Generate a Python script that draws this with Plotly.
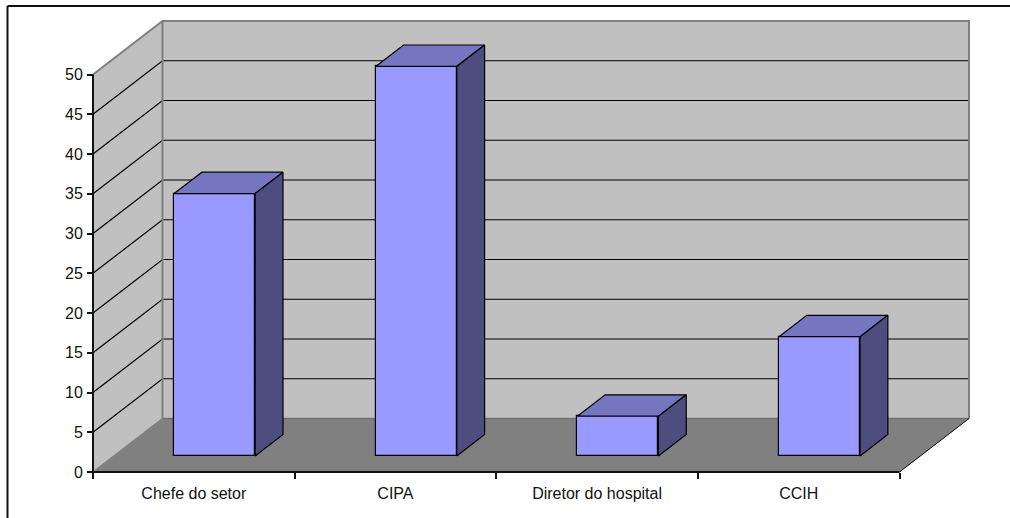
import plotly.graph_objects as go

# Chart data
categories = ["Chefe do setor", "CIPA", "Diretor do hospital", "CCIH"]
values = [33, 49, 5, 15]
y_ticks = [0, 5, 10, 15, 20, 25, 30, 35, 40, 45, 50]

# Oblique projection of the depth axis, expressed in axis units
DEPTH_X = 0.3447
DEPTH_Y = 6.73
BAR_WIDTH = 0.402
BAR_NEAR = 0.30   # fraction of the depth where a bar's front face sits
BAR_FAR = 0.70    # fraction of the depth where its back face sits

WALL = "#C0C0C0"
FLOOR = "#808080"
EDGE = "#808080"
FRONT = "#9999FF"
TOP = "#7676C0"
SIDE = "#4D4D80"
INK = "#000000"
AXIS = "#111111"

Y_MAX = 50
N = len(categories)
W, H = 1010, 518
L, R, T, B = 89, 37, 17, 42

# Small margin round the box so its outer lines are not clipped
plot_w = W - L - R
plot_h = H - T - B
PAD_PX = 4
PAD_X = PAD_PX * (N + DEPTH_X) / (plot_w - 2 * PAD_PX)
PAD_Y = PAD_PX * (Y_MAX + DEPTH_Y) / (plot_h - 2 * PAD_PX)


def path(points):
    return "M " + " L ".join(f"{x},{y}" for x, y in points) + " Z"


shapes = [
    # Back wall, side wall and floor
    dict(type="path", xref="x", yref="y", layer="below", line_width=0, fillcolor=WALL,
         path=path([(DEPTH_X, DEPTH_Y), (N + DEPTH_X, DEPTH_Y),
                    (N + DEPTH_X, Y_MAX + DEPTH_Y), (DEPTH_X, Y_MAX + DEPTH_Y)])),
    dict(type="path", xref="x", yref="y", layer="below", line_width=0, fillcolor=WALL,
         path=path([(0, 0), (DEPTH_X, DEPTH_Y), (DEPTH_X, Y_MAX + DEPTH_Y), (0, Y_MAX)])),
    dict(type="path", xref="x", yref="y", layer="below", line_width=0, fillcolor=FLOOR,
         path=path([(0, 0), (N, 0), (N + DEPTH_X, DEPTH_Y), (DEPTH_X, DEPTH_Y)])),
]

# Gridlines wrap from the side wall across the back wall
for v in y_ticks[1:-1]:
    shapes.append(dict(type="path", xref="x", yref="y", layer="below",
                       line=dict(color=INK, width=1.2),
                       path=f"M 0,{v} L {DEPTH_X},{v + DEPTH_Y} L {N + DEPTH_X},{v + DEPTH_Y}"))

# Corner between the two walls and the floor's edges
shapes.append(dict(type="line", xref="x", yref="y", layer="below",
                   line=dict(color=EDGE, width=2),
                   x0=DEPTH_X, x1=DEPTH_X, y0=DEPTH_Y, y1=Y_MAX + DEPTH_Y))
shapes.append(dict(type="line", xref="x", yref="y", layer="below",
                   line=dict(color="#707070", width=1.5),
                   x0=DEPTH_X, x1=N + DEPTH_X, y0=DEPTH_Y, y1=DEPTH_Y))
shapes.append(dict(type="line", xref="x", yref="y", layer="below",
                   line=dict(color=EDGE, width=1.5),
                   x0=0, x1=DEPTH_X, y0=0, y1=DEPTH_Y))
# Outer edges of the box
shapes.append(dict(type="path", xref="x", yref="y", layer="below",
                   line=dict(color=EDGE, width=2),
                   path=f"M 0,{Y_MAX} L {DEPTH_X},{Y_MAX + DEPTH_Y} "
                        f"L {N + DEPTH_X},{Y_MAX + DEPTH_Y} L {N + DEPTH_X},{DEPTH_Y}"))
shapes.append(dict(type="line", xref="x", yref="y", layer="below",
                   line=dict(color=INK, width=1),
                   x0=N, x1=N + DEPTH_X, y0=0, y1=DEPTH_Y))
# The two axis lines stop at the front of the box
shapes.append(dict(type="line", xref="x", yref="y", layer="below",
                   line=dict(color=AXIS, width=2), x0=0, x1=0, y0=0, y1=Y_MAX))
shapes.append(dict(type="line", xref="x", yref="y", layer="below",
                   line=dict(color=AXIS, width=2), x0=0, x1=N, y0=0, y1=0))

# Outer frame: top and left rules only
fx = lambda px: (px - L) / plot_w
fy = lambda py: (H - B - py) / plot_h
shapes.append(dict(type="line", xref="paper", yref="paper", line=dict(color="#111111", width=2),
                   x0=fx(7.5), x1=fx(1010), y0=fy(6), y1=fy(6)))
shapes.append(dict(type="line", xref="paper", yref="paper", line=dict(color="#111111", width=2),
                   x0=fx(7.5), x1=fx(7.5), y0=fy(6), y1=fy(518)))

fig = go.Figure()

near_x = DEPTH_X * BAR_NEAR
near_y = DEPTH_Y * BAR_NEAR
far_x = DEPTH_X * BAR_FAR
far_y = DEPTH_Y * BAR_FAR
step_x = far_x - near_x
step_y = far_y - near_y
centers = [i + 0.5 + near_x for i in range(N)]

# Front faces
fig.add_trace(go.Bar(
    x=centers, y=values, base=[near_y] * N, width=BAR_WIDTH,
    marker=dict(color=FRONT, line=dict(color=INK, width=1.2)),
    hoverinfo="skip", showlegend=False,
))

# Top and side faces of each bar
for c, v in zip(centers, values):
    left = c - BAR_WIDTH / 2
    right = c + BAR_WIDTH / 2
    low = near_y
    high = near_y + v
    fig.add_trace(go.Scatter(
        x=[left, right, right + step_x, left + step_x, left],
        y=[high, high, high + step_y, high + step_y, high],
        mode="lines", fill="toself", fillcolor=TOP, line=dict(color=INK, width=1.2),
        hoverinfo="skip", showlegend=False,
    ))
    fig.add_trace(go.Scatter(
        x=[right, right + step_x, right + step_x, right, right],
        y=[low, low + step_y, high + step_y, high, low],
        mode="lines", fill="toself", fillcolor=SIDE, line=dict(color=INK, width=1.2),
        hoverinfo="skip", showlegend=False,
    ))

font = dict(family="Liberation Sans, Arial, sans-serif", size=16, color="#111111")

fig.update_layout(
    width=W, height=H,
    margin=dict(l=L, r=R, t=T, b=B, pad=0),
    paper_bgcolor="white", plot_bgcolor="white",
    bargap=0, shapes=shapes, showlegend=False,
    font=font,
    xaxis=dict(
        range=[-PAD_X, N + DEPTH_X + PAD_X], showgrid=False, zeroline=False, showline=False,
        anchor="free", position=PAD_PX / plot_h,
        tickmode="array", tickvals=[i + 0.5 for i in range(N)], ticktext=categories,
        ticks="", tickfont=font, ticklabelstandoff=10,
        minor=dict(tickmode="array", tickvals=list(range(N + 1)), ticks="outside",
                   ticklen=6, tickwidth=1.5, tickcolor=AXIS, showgrid=False),
    ),
    yaxis=dict(
        range=[-PAD_Y, Y_MAX + DEPTH_Y + PAD_Y], showgrid=False, zeroline=False, showline=False,
        anchor="free", position=PAD_PX / plot_w,
        tickmode="array", tickvals=y_ticks, ticks="outside", ticklabelstandoff=1,
        ticklen=6, tickwidth=1.5, tickcolor=AXIS, tickfont=font,
    ),
)

fig.write_html("out.html")
